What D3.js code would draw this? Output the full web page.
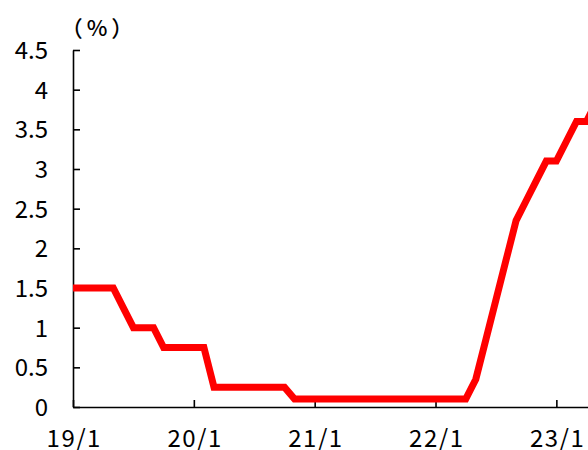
<!DOCTYPE html>
<html>
<head>
<meta charset="utf-8">
<script src="https://cdn.jsdelivr.net/npm/d3@7"></script>
<style>
  html, body { margin: 0; padding: 0; background: #fff; }
  svg { display: block; }
  text { font-family: "Noto Sans CJK JP", "DejaVu Sans", sans-serif; fill: #000; }
</style>
</head>
<body>
<svg id="chart" width="588" height="450"></svg>
<script>
// Policy rate, month-end values from 2019/1 (one entry per month)
const months = d3.range(0, 53);
const rate = [
  1.5, 1.5, 1.5, 1.5, 1.5, 1.25, 1.0, 1.0, 1.0, 0.75, 0.75, 0.75,   // 2019
  0.75, 0.75, 0.25, 0.25, 0.25, 0.25, 0.25, 0.25, 0.25, 0.25, 0.1, 0.1, // 2020
  0.1, 0.1, 0.1, 0.1, 0.1, 0.1, 0.1, 0.1, 0.1, 0.1, 0.1, 0.1,      // 2021
  0.1, 0.1, 0.1, 0.1, 0.35, 0.85, 1.35, 1.85, 2.35, 2.6, 2.85, 3.1, // 2022
  3.1, 3.35, 3.6, 3.6, 3.85                                         // 2023
];
const xTickMonths = [0, 12, 24, 36, 48];
const xTickLabels = ["19/1", "20/1", "21/1", "22/1", "23/1"];
const yTicks = [0, 0.5, 1, 1.5, 2, 2.5, 3, 3.5, 4, 4.5];
const unitLabel = "（%）";

const svg = d3.select("#chart");
const plotLeft = 73, plotBottom = 407, plotTop = 50, monthW = 10.07;

const x = d3.scaleLinear().domain([0, 52]).range([plotLeft, plotLeft + 52 * monthW]);
const y = d3.scaleLinear().domain([0, 4.5]).range([plotBottom, plotTop]);

// y axis: ticks point inward
const yAxis = d3.axisLeft(y)
  .tickValues(yTicks)
  .tickFormat(d => String(d))
  .tickSizeInner(-7)
  .tickSizeOuter(0)
  .tickPadding(25);
const gy = svg.append("g").attr("transform", `translate(${plotLeft},0)`).call(yAxis);
gy.selectAll("text").style("font-size", "24px").attr("dy", "0.36em");

// x axis: ticks point upward
const xAxis = d3.axisBottom(x)
  .tickValues(xTickMonths)
  .tickFormat((d, i) => xTickLabels[i])
  .tickSizeInner(-7)
  .tickSizeOuter(0)
  .tickPadding(23);
const gx = svg.append("g").attr("transform", `translate(0,${plotBottom})`).call(xAxis);
gx.selectAll("text")
  .style("font-size", "24px")
  .style("letter-spacing", "1.5px")
  .attr("dx", "0.75px");

svg.selectAll(".domain, .tick line").attr("stroke", "#000").attr("stroke-width", 1.6);

// unit label
svg.append("text")
  .attr("x", 99).attr("y", 36)
  .attr("text-anchor", "middle")
  .style("font-size", "22px")
  .style("font-weight", "500")
  .style("letter-spacing", "4px")
  .text(unitLabel);

// rate line
const line = d3.line().x((d, i) => x(months[i])).y(d => y(d));
svg.append("path")
  .datum(rate)
  .attr("d", line)
  .attr("fill", "none")
  .attr("stroke", "#ff0000")
  .attr("stroke-width", 7)
  .attr("stroke-linejoin", "miter");
</script>
</body>
</html>
